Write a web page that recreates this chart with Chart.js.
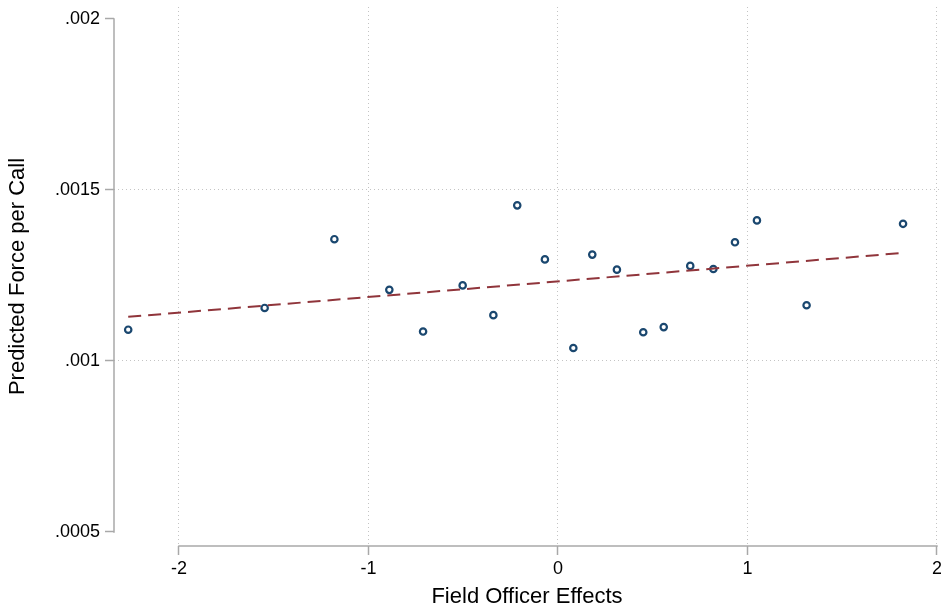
<!DOCTYPE html>
<html>
<head>
<meta charset="utf-8">
<script src="https://cdn.jsdelivr.net/npm/chart.js@4.4.1/dist/chart.umd.min.js"></script>
<style>
  html, body { margin: 0; padding: 0; background: #ffffff; }
  #wrap { width: 941px; height: 609px; position: relative; }
</style>
</head>
<body>
<div id="wrap"><canvas id="c" width="941" height="609"></canvas></div>
<script>
// Field officer effects (x) and predicted force per call (y)
const officerEffects = [-2.268, -1.548, -1.180, -0.890, -0.712, -0.503, -0.341, -0.215, -0.069, 0.081,
                        0.181, 0.311, 0.450, 0.558, 0.698, 0.820, 0.934, 1.050, 1.312, 1.821];
const predictedForce = [0.0010915, 0.001155, 0.001356, 0.001208, 0.001086, 0.001221, 0.001134, 0.001455, 0.001297, 0.001038,
                        0.001311, 0.001267, 0.001084, 0.001099, 0.001278, 0.001269, 0.001347, 0.001411, 0.001163, 0.001401];
// Linear fit end points
const fitX = [-2.268, 1.821];
const fitY = [0.001129, 0.001316];
// Tick values and labels
const xTicks = [-2, -1, 0, 1, 2];
const xTickLabels = ['-2', '-1', '0', '1', '2'];
const yTicks = [0.0005, 0.001, 0.0015, 0.002];
const yTickLabels = ['.0005', '.001', '.0015', '.002'];

const scatterData = officerEffects.map((x, i) => ({ x: x, y: predictedForce[i] }));
const fitData = fitX.map((x, i) => ({ x: x, y: fitY[i] }));

const AXIS_COLOR = '#a8a8a8';
const GRID_COLOR = '#c4c4c4';
const FONT = 'Liberation Sans, Arial, Helvetica, sans-serif';

const axisLines = {
  id: 'axisLines',
  beforeDatasetsDraw(chart) {
    const ctx = chart.ctx;
    const xs = chart.scales.x, ys = chart.scales.y;
    ctx.save();
    ctx.strokeStyle = AXIS_COLOR;
    ctx.lineWidth = 1.5;
    ctx.setLineDash([]);
    const yb = chart.chartArea.bottom;
    ctx.beginPath();
    ctx.moveTo(xs.getPixelForValue(xTicks[0]) - 0.75, yb);
    ctx.lineTo(xs.getPixelForValue(xTicks[xTicks.length - 1]) + 0.75, yb);
    ctx.stroke();
    const xl = chart.chartArea.left;
    ctx.beginPath();
    ctx.moveTo(xl, ys.getPixelForValue(yTicks[0]) + 0.75);
    ctx.lineTo(xl, ys.getPixelForValue(yTicks[yTicks.length - 1]) - 0.75);
    ctx.stroke();
    ctx.restore();
  }
};

new Chart(document.getElementById('c'), {
  type: 'scatter',
  data: {
    datasets: [
      {
        type: 'line',
        label: 'Fitted values',
        data: fitData,
        borderColor: '#90353b',
        borderWidth: 2,
        borderDash: [13, 7],
        pointRadius: 0,
        fill: false,
        order: 0
      },
      {
        label: 'Predicted Force per Call',
        data: scatterData,
        pointStyle: 'circle',
        pointRadius: 3.2,
        pointBorderWidth: 2.2,
        pointBackgroundColor: 'rgba(255,255,255,0)',
        pointBorderColor: '#1a476f',
        borderColor: '#1a476f',
        backgroundColor: 'rgba(255,255,255,0)',
        order: 1
      }
    ]
  },
  options: {
    responsive: false,
    animation: false,
    devicePixelRatio: 1,
    layout: { autoPadding: false, padding: { top: 7, right: 1, left: 0, bottom: 0 } },
    plugins: { legend: { display: false }, tooltip: { enabled: false } },
    scales: {
      x: {
        type: 'linear',
        min: -2.343,
        max: 2.016,
        afterBuildTicks(scale) { scale.ticks = xTicks.map(v => ({ value: v })); },
        afterFit(scale) { scale.height = 63; scale.paddingLeft = 0; scale.paddingRight = 0; },
        border: { display: false, dash: [1, 3] },
        grid: {
          color: GRID_COLOR,
          lineWidth: 1,
          borderDash: [1, 3],
          drawTicks: true,
          tickLength: 9,
          tickColor: AXIS_COLOR,
          tickWidth: 1.5,
          tickBorderDash: []
        },
        ticks: {
          autoSkip: false,
          maxRotation: 0,
          padding: 3,
          color: '#000000',
          font: { family: FONT, size: 18 },
          callback: (v, i) => xTickLabels[i]
        },
        title: {
          display: true,
          text: 'Field Officer Effects',
          color: '#000000',
          font: { family: FONT, size: 22, lineHeight: 1.1 },
          padding: { top: 0, bottom: 0 }
        }
      },
      y: {
        type: 'linear',
        min: 0.000459,
        max: 0.002035,
        afterBuildTicks(scale) { scale.ticks = yTicks.map(v => ({ value: v })); },
        afterFit(scale) { scale.width = 114; scale.paddingTop = 0; scale.paddingBottom = 0; },
        border: { display: false, dash: [1, 3] },
        grid: {
          color: (ctx) => (ctx.index === 1 || ctx.index === 2) ? GRID_COLOR : 'rgba(0,0,0,0)',
          lineWidth: 1,
          borderDash: [1, 3],
          drawTicks: true,
          tickLength: 9,
          tickColor: AXIS_COLOR,
          tickWidth: 1.5,
          tickBorderDash: []
        },
        ticks: {
          autoSkip: false,
          padding: 5,
          color: '#000000',
          font: { family: FONT, size: 18 },
          callback: (v, i) => yTickLabels[i]
        },
        title: {
          display: true,
          text: 'Predicted Force per Call',
          color: '#000000',
          font: { family: FONT, size: 22, lineHeight: 1.2 },
          padding: { top: 5, bottom: 0 }
        }
      }
    }
  },
  plugins: [axisLines]
});
</script>
</body>
</html>
